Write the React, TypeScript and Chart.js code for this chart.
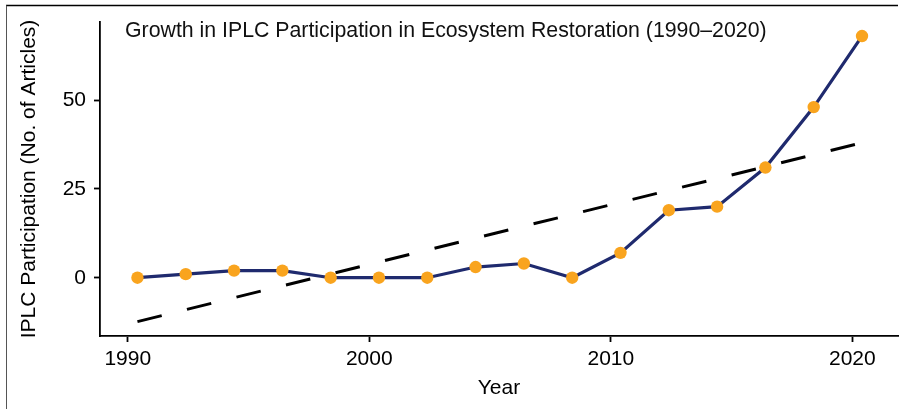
import React, { useEffect, useRef } from "react";
import { Chart, registerables } from "chart.js";

Chart.register(...registerables);

const years = [1990.4, 1992.4, 1994.4, 1996.4, 1998.4, 2000.4, 2002.4, 2004.4, 2006.4, 2008.4, 2010.4, 2012.4, 2014.4, 2016.4, 2018.4, 2020.4];
const articles = [0, 1, 2, 2, 0, 0, 0, 3, 4, 0, 7, 19, 20, 31, 48, 68];
const xTicks = [1990, 2000, 2010, 2020];
const yTicks = [0, 25, 50];
const titleText = "Growth in IPLC Participation in Ecosystem Restoration (1990\u20132020)";
const xTitle = "Year";
const yTitle = "IPLC Participation (No. of Articles)";

function linearFit(xs: number[], ys: number[]) {
  const n = xs.length;
  const mx = xs.reduce((a, b) => a + b, 0) / n;
  const my = ys.reduce((a, b) => a + b, 0) / n;
  let sxy = 0, sxx = 0;
  for (let i = 0; i < n; i++) {
    sxy += (xs[i] - mx) * (ys[i] - my);
    sxx += (xs[i] - mx) * (xs[i] - mx);
  }
  const slope = sxy / sxx;
  const icpt = my - slope * mx;
  return (x: number) => icpt + slope * x;
}

const FONT = "'Liberation Sans', Arial, sans-serif";

const decorPlugin = {
  id: "decor",
  afterDraw(chart: any) {
    const ctx = chart.ctx;
    ctx.save();
    ctx.strokeStyle = "#000";
    ctx.lineWidth = 1.5;
    ctx.beginPath();
    ctx.moveTo(6, 5.5);
    ctx.lineTo(898, 5.5);
    ctx.stroke();
    ctx.strokeStyle = "#555";
    ctx.lineWidth = 1;
    ctx.beginPath();
    ctx.moveTo(6.5, 5.5);
    ctx.lineTo(6.5, 409);
    ctx.stroke();
    ctx.fillStyle = "#111";
    ctx.font = `21.3px ${FONT}`;
    ctx.textAlign = "left";
    ctx.textBaseline = "alphabetic";
    ctx.fillText(titleText, 125, 37.3);
    ctx.restore();
  },
};

export default function App() {
  const ref = useRef<HTMLCanvasElement | null>(null);
  useEffect(() => {
    document.body.style.margin = "0";
    const fit = linearFit(years, articles);
    const x0 = years[0];
    const x1 = years[years.length - 1];
    const chart = new Chart(ref.current as HTMLCanvasElement, {
      type: "line",
      data: {
        datasets: [
          {
            data: years.map((x, i) => ({ x, y: articles[i] })),
            borderColor: "#1f2a6e",
            borderWidth: 3.2,
            pointBackgroundColor: "#f9a41e",
            pointBorderColor: "#f9a41e",
            pointBorderWidth: 0,
            pointRadius: 6.2,
            tension: 0,
          },
          {
            data: [
              { x: x0, y: fit(x0) },
              { x: x1, y: fit(x1) },
            ],
            borderColor: "#000",
            borderWidth: 3,
            borderDash: [25, 26],
            pointRadius: 0,
            tension: 0,
          },
        ],
      },
      options: {
        animation: false,
        responsive: false,
        layout: { padding: { left: 0, top: 22, right: 5, bottom: 0 }, autoPadding: false },
        plugins: { legend: { display: false }, tooltip: { enabled: false }, title: { display: false } },
        scales: {
          x: {
            type: "linear",
            min: 1988.85,
            max: 2021.89,
            afterFit: (s: any) => { s.height = 73; },
            afterBuildTicks: (s: any) => { s.ticks = xTicks.map((v) => ({ value: v })); },
            grid: { drawOnChartArea: false, drawTicks: true, tickLength: 6, tickWidth: 1.8, tickColor: "#000" },
            border: { display: true, color: "#000", width: 1.8 },
            ticks: { color: "#000", font: { family: FONT, size: 21 }, padding: 4.5, callback: (v: any) => String(v) },
            title: { display: true, text: xTitle, color: "#000", font: { family: FONT, size: 21 }, padding: { top: 0, bottom: 7.7 } },
          },
          y: {
            type: "linear",
            min: -16.4,
            max: 71.95,
            afterFit: (s: any) => { s.width = 100; },
            afterBuildTicks: (s: any) => { s.ticks = yTicks.map((v) => ({ value: v })); },
            grid: { drawOnChartArea: false, drawTicks: true, tickLength: 6, tickWidth: 1.8, tickColor: "#000" },
            border: { display: true, color: "#000", width: 1.8 },
            ticks: { color: "#000", font: { family: FONT, size: 21 }, padding: 8, callback: (v: any) => String(v) },
            title: { display: true, text: yTitle, color: "#000", font: { family: FONT, size: 21 }, padding: { top: 16.8, bottom: 0 } },
          },
        },
      },
      plugins: [decorPlugin],
    });
    return () => chart.destroy();
  }, []);
  return (
    <div style={{ width: 903, height: 409, background: "#fff" }}>
      <canvas ref={ref} width={903} height={409} style={{ display: "block" }} />
    </div>
  );
}
